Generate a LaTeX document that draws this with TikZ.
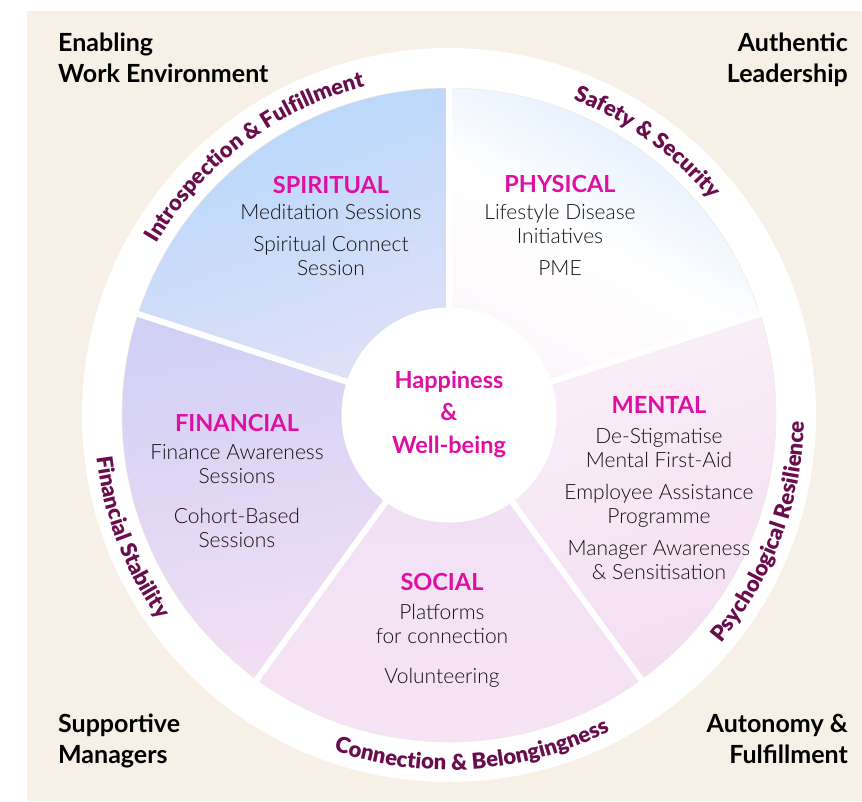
\documentclass[tikz,border=0pt]{standalone}
\usepackage{fontspec}
\setmainfont{Lato}
\IfFontExistsTF{Lato Light}{\newfontfamily\lightfont{Lato Light}}{\newfontfamily\lightfont{Lato}}
\newfontfamily\ringfam{Lato}[UprightFont=* Bold]
\usetikzlibrary{decorations.text}
\definecolor{bg}{HTML}{F6F0E7}
\definecolor{ringc}{HTML}{6A0D4D}
\definecolor{mag}{HTML}{DF0FA3}
\definecolor{bodyc}{HTML}{111111}
\definecolor{pieline}{HTML}{F2E8DC}
\newcommand\ringfont{\ringfam\bfseries\fontsize{22}{22}\selectfont}
\tikzset{
  bodytxt/.style={font=\lightfont\fontsize{21}{25}\selectfont, text=bodyc, anchor=base, inner sep=0pt},
  ttl/.style={font=\bfseries\fontsize{23.5}{27}\selectfont, text=mag, anchor=base, inner sep=0pt},
  corner/.style={font=\bfseries\fontsize{25}{29}\selectfont, text=black, inner sep=0pt},
  hub/.style={font=\bfseries\fontsize{23.5}{28}\selectfont, text=mag, anchor=base, inner sep=0pt},
  ringtext/.style={decorate, decoration={text along path, text align=center, text color=ringc, text={|\ringfont|#1}}}
}
\begin{document}
\begin{tikzpicture}[x=1pt,y=1pt]
\useasboundingbox (-449,-386) rectangle (413,415);
\fill[bg] (-422,-386) rectangle (413,404);
\fill[white] (0,0) circle (367);
% sectors
\shade[top color={rgb,255:red,182;green,215;blue,251}, bottom color={rgb,255:red,226;green,225;blue,247}, shading angle=20]
  (0,0) -- (90:327) arc (90:162:327) -- cycle;
\shade[left color={rgb,255:red,220;green,235;blue,253}, right color={rgb,255:red,252;green,245;blue,250}, middle color=white, shading angle=-30]
  (0,0) -- (18:327) arc (18:90:327) -- cycle;
\shade[top color={rgb,255:red,208;green,208;blue,245}, bottom color={rgb,255:red,244;green,223;blue,244}, shading angle=10]
  (0,0) -- (162:327) arc (162:234:327) -- cycle;
\shade[top color={rgb,255:red,240;green,224;blue,245}, bottom color={rgb,255:red,247;green,227;blue,245}]
  (0,0) -- (234:327) arc (234:306:327) -- cycle;
\shade[top color={rgb,255:red,250;green,240;blue,249}, bottom color={rgb,255:red,244;green,222;blue,242}, shading angle=20]
  (0,0) -- (306:327) arc (306:378:327) -- cycle;
\draw[pieline, line width=0.5] (0,0) circle (327);
\foreach \a in {18,90,162,234,306} \draw[white, line width=6] (0,0) -- (\a:331);
\fill[white] (0,0) circle (107.5);
% ring texts
{\ringfont
\path[ringtext={Introspection {\&} Fulfillment}] (167:339) arc (167:87:339);
\path[ringtext={Safety {\&} Security}] (94:339) arc (94:14:339);
\path[ringtext={Psychological Resilience}] (-60:355) arc (-60:19:355);
\path[ringtext={Connection {\&} Belongingness}] (234:355) arc (234:314:355);
\path[ringtext={Financial Stability}] (161:355) arc (161:241:355);
}
% hub
\node[hub] (h1) at (0,27) {Happiness};
\node[hub] (h2) at (0,-5) {\&};
\node[hub] (h3) at (0,-38) {Well-being};
% spiritual
\node[ttl] (spt) at (-118,222) {SPIRITUAL};
\node[bodytxt] (sp1) at (-118,196) {Meditation Sessions};
\node[bodytxt] (sp2) at (-118,164) {Spiritual Connect};
\node[bodytxt] (sp3) at (-118,140) {Session};
% physical
\node[ttl] (pht) at (111,223) {PHYSICAL};
\node[bodytxt] (ph1) at (111,196) {Lifestyle Disease};
\node[bodytxt] (ph2) at (111,172) {Initiatives};
\node[bodytxt] (ph3) at (111,140) {PME};
% mental
\node[ttl] (mnt) at (210,2) {MENTAL};
\node[bodytxt] (mn1) at (210,-28) {De-Stigmatise};
\node[bodytxt] (mn2) at (210,-52) {Mental First-Aid};
\node[bodytxt] (mn3) at (210,-84) {Employee Assistance};
\node[bodytxt] (mn4) at (210,-108) {Programme};
\node[bodytxt] (mn5) at (210,-140) {Manager Awareness};
\node[bodytxt] (mn6) at (210,-164) {\& Sensitisation};
% financial
\node[ttl] (fnt) at (-212,-16) {FINANCIAL};
\node[bodytxt] (fn1) at (-212,-44) {Finance Awareness};
\node[bodytxt] (fn2) at (-212,-68) {Sessions};
\node[bodytxt] (fn3) at (-212,-108) {Cohort-Based};
\node[bodytxt] (fn4) at (-212,-132) {Sessions};
% social
\node[ttl] (sot) at (-7,-175) {SOCIAL};
\node[bodytxt] (so1) at (-7,-204) {Platforms};
\node[bodytxt] (so2) at (-7,-228) {for connection};
\node[bodytxt] (so3) at (-7,-268) {Volunteering};
% corners
\node[corner, anchor=base west] (c1) at (-391,363) {Enabling};
\node[corner, anchor=base west] (c2) at (-391,332) {Work Environment};
\node[corner, anchor=base east] (c3) at (399,363) {Authentic};
\node[corner, anchor=base east] (c4) at (399,332) {Leadership};
\node[corner, anchor=base west] (c5) at (-391,-317) {Supportive};
\node[corner, anchor=base west] (c6) at (-391,-348) {Managers};
\node[corner, anchor=base east] (c7) at (399,-317) {Autonomy \&};
\node[corner, anchor=base east] (c8) at (399,-348) {Fulfillment};
\end{tikzpicture}
\end{document}
